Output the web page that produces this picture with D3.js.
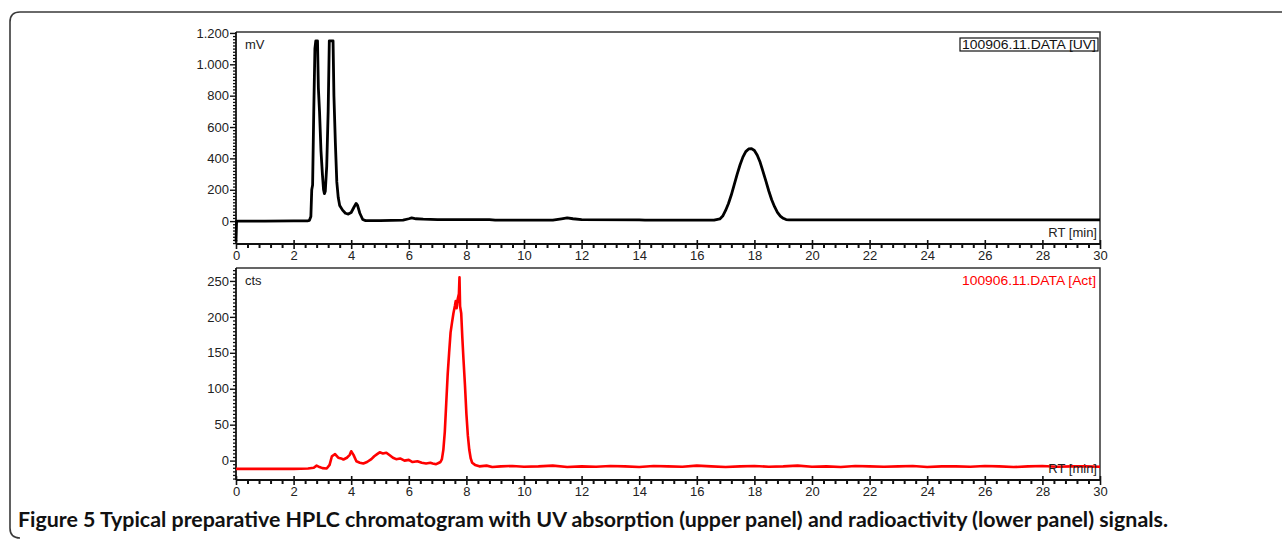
<!DOCTYPE html>
<html>
<head>
<meta charset="utf-8">
<script src="https://cdn.jsdelivr.net/npm/d3@7/dist/d3.min.js"></script>
<style>
  html, body { margin: 0; padding: 0; background: #fff; }
  svg { display: block; }
  text { font-family: "Liberation Sans", Arial, sans-serif; }
</style>
</head>
<body>
<svg id="chart" width="1282" height="540"></svg>
<script>
// ---------------- DATA ----------------
// Upper panel: UV absorption (mV) vs retention time (min)
const uvTime = [0, 0.02, 1.0, 2.0, 2.5, 2.55, 2.6, 2.63, 2.66, 2.7, 2.74, 2.77, 2.83, 2.86, 2.9, 2.95, 3.0, 3.04, 3.07, 3.1, 3.15, 3.2, 3.24, 3.37, 3.4, 3.45, 3.5, 3.55, 3.6, 3.7, 3.8, 3.9, 4.0, 4.1, 4.17, 4.22, 4.3, 4.4, 4.5, 5.0, 5.8, 6.0, 6.1, 6.25, 6.5, 7.0, 8.0, 8.8, 9.0, 11.0, 11.3, 11.5, 11.7, 12.0, 14.0, 14.2, 16.6, 16.8, 16.9, 17.0, 17.1, 17.2, 17.3, 17.4, 17.5, 17.6, 17.7, 17.8, 17.9, 18.0, 18.1, 18.2, 18.3, 18.4, 18.5, 18.6, 18.7, 18.8, 18.9, 19.0, 19.1, 19.2, 25.0, 30.0];
const uvValue = [-130, 0, 0, 1, 2, 5, 30, 200, 230, 700, 1100, 1150, 1150, 850, 700, 450, 300, 200, 175, 190, 350, 700, 1150, 1150, 800, 500, 250, 150, 100, 70, 50, 45, 55, 90, 113, 100, 50, 10, 3, 3, 6, 15, 20, 15, 12, 10, 10, 9, 6, 6, 14, 20, 15, 9, 8, 6, 6, 14, 32, 68, 112, 168, 232, 298, 358, 408, 443, 460, 462, 450, 420, 375, 315, 255, 192, 136, 92, 56, 32, 18, 10, 8, 8, 8];

// Lower panel: radioactivity (cts) vs retention time (min)
const actTime = [0, 1.0, 2.0, 2.5, 2.7, 2.8, 2.9, 3.0, 3.15, 3.25, 3.33, 3.44, 3.55, 3.65, 3.73, 3.85, 3.95, 4.0, 4.08, 4.18, 4.3, 4.42, 4.55, 4.7, 4.8, 4.9, 4.99, 5.1, 5.22, 5.35, 5.45, 5.56, 5.7, 5.85, 6.0, 6.13, 6.3, 6.45, 6.6, 6.75, 6.83, 6.95, 7.05, 7.1, 7.15, 7.2, 7.25, 7.3, 7.35, 7.4, 7.45, 7.5, 7.55, 7.6, 7.63, 7.66, 7.7, 7.74, 7.76, 7.78, 7.82, 7.86, 7.9, 7.95, 8.0, 8.05, 8.1, 8.15, 8.2, 8.3, 8.45, 8.7, 8.9, 9.2, 9.6, 10.0, 10.5, 11.0, 11.5, 12.0, 12.5, 13.0, 13.5, 14.0, 14.5, 15.0, 15.5, 16.0, 16.5, 17.0, 17.5, 18.0, 18.5, 19.0, 19.5, 20.0, 20.5, 21.0, 21.5, 22.0, 22.5, 23.0, 23.5, 24.0, 24.5, 25.0, 25.5, 26.0, 26.5, 27.0, 27.5, 28.0, 28.5, 29.0, 29.5, 30.0];
const actValue = [-11.5, -11.5, -11.5, -11, -10, -7, -9, -10.5, -11, -6, 6, 9, 4, 3, 1.5, 4, 8, 13, 8, -1, -3, -4, -2, 2, 6, 9, 11.5, 10, 11, 7, 4, 2, 3, 0, 1, -2, -1, -3, -4, -3, -4, -5, -3, -2, 2, 15, 40, 80, 120, 150, 178, 192, 205, 215, 222, 212, 225, 232, 255, 215, 205, 170, 140, 105, 65, 35, 15, 3, -3, -6, -8, -7, -9, -8, -7.5, -8.5, -8, -7, -9, -8, -8.5, -7.5, -8, -9, -7.5, -8, -8.5, -7, -8, -9, -8, -7.5, -8.5, -8, -7, -8.5, -8, -9, -7.5, -8, -8.5, -8, -7.5, -9, -8, -8, -8.5, -7.5, -8, -9, -8, -7.5, -8.5, -8, -8, -8.5];

const xTicks = [0, 2, 4, 6, 8, 10, 12, 14, 16, 18, 20, 22, 24, 26, 28, 30];
const uvTicks = [0, 200, 400, 600, 800, 1000, 1200];
const actTicks = [0, 50, 100, 150, 200, 250];

const uvLabel = "mV";
const actLabel = "cts";
const uvLegend = "100906.11.DATA [UV]";
const actLegend = "100906.11.DATA [Act]";
const xLabel = "RT [min]";
const caption = "Figure 5 Typical preparative HPLC chromatogram with UV absorption (upper panel) and radioactivity (lower panel) signals.";

// ---------------- DRAWING ----------------
const svg = d3.select("#chart");

// outer rounded frame (top + left edges)
svg.append("path")
  .attr("d", "M1282,12 H20 Q10,12 10,22 V528 Q10,538 20,538")
  .attr("fill", "none").attr("stroke", "#3a3a3a").attr("stroke-width", 1.6);

const left = 236, right = 1100;
const x = d3.scaleLinear().domain([0, 30]).range([left, right]);
const dotFmt = v => d3.format(",")(v).replace(/,/g, ".");

function panel(opts) {
  const { top, bottom, yDomain, yTicks, yMinorStep, time, values, color, unit, legend, boxed, labelOff } = opts;
  const y = d3.scaleLinear().domain(yDomain).range([bottom, top]);
  const g = svg.append("g");

  // top and right border
  g.append("path")
    .attr("d", `M${left},${top} H${right} V${bottom}`)
    .attr("fill", "none").attr("stroke", "#333").attr("stroke-width", 1.5);

  // minor y ticks
  const yMinor = d3.range(Math.ceil(yDomain[0] / yMinorStep) * yMinorStep, yDomain[1] + 0.001, yMinorStep)
    .filter(v => !yTicks.includes(v));
  g.append("g").attr("transform", `translate(${left},0)`)
    .call(d3.axisLeft(y).tickValues(yMinor).tickSize(3).tickFormat(""))
    .call(a => a.select(".domain").remove())
    .selectAll("line").attr("stroke", "#111").attr("stroke-width", 1.3);

  // major y ticks + labels
  const ya = g.append("g").attr("transform", `translate(${left},0)`)
    .call(d3.axisLeft(y).tickValues(yTicks).tickSize(6).tickPadding(1).tickFormat(dotFmt));
  ya.select(".domain").attr("d", `M0,${top}V${bottom}`).attr("stroke", "#111").attr("stroke-width", 1.8);
  ya.selectAll("line").attr("stroke", "#111").attr("stroke-width", 1.4);
  ya.selectAll("text").attr("font-size", 13).attr("fill", "#222")
    .attr("font-family", "'Liberation Sans', Arial, sans-serif");

  // minor x ticks
  const xMinor = d3.range(0, 30.001, 0.4).map(v => +v.toFixed(2)).filter(v => Math.abs(v / 2 - Math.round(v / 2)) > 1e-6);
  g.append("g").attr("transform", `translate(0,${bottom})`)
    .call(d3.axisBottom(x).tickValues(xMinor).tickSize(4).tickFormat(""))
    .call(a => a.select(".domain").remove())
    .selectAll("line").attr("stroke", "#111").attr("stroke-width", 2);

  // major x ticks + labels
  const xa = g.append("g").attr("transform", `translate(0,${bottom})`)
    .call(d3.axisBottom(x).tickValues(xTicks).tickSize(5).tickPadding(labelOff).tickFormat(d3.format("d")));
  xa.select(".domain").attr("d", `M${left},0H${right}`).attr("stroke", "#111").attr("stroke-width", 1.8);
  xa.selectAll("line").attr("y1", -4).attr("stroke", "#111").attr("stroke-width", 1.6);
  xa.selectAll("text").attr("font-size", 13).attr("fill", "#222")
    .attr("font-family", "'Liberation Sans', Arial, sans-serif");

  // trace
  const line = d3.line().x((d, i) => x(time[i])).y(d => y(d));
  g.append("path").datum(values)
    .attr("d", line)
    .attr("fill", "none").attr("stroke", color)
    .attr("stroke-width", opts.sw).attr("stroke-linejoin", "round");

  // unit label
  g.append("text").attr("x", left + 9).attr("y", top + 17)
    .attr("font-size", 13).attr("fill", "#222").text(unit);

  // legend
  const lt = g.append("text").attr("x", right - 4).attr("y", top + 17)
    .attr("text-anchor", "end").attr("font-size", 13).attr("fill", color === "#000" ? "#111" : color)
    .attr("textLength", 134).attr("lengthAdjust", "spacingAndGlyphs")
    .text(legend);
  if (boxed) {
    const bb = lt.node().getBBox();
    g.append("rect")
      .attr("x", bb.x - 2).attr("y", top + 6).attr("width", bb.width + 4).attr("height", 13)
      .attr("fill", "none").attr("stroke", "#111").attr("stroke-width", 1.2);
  }

  // RT [min]
  g.append("text").attr("x", right - 3).attr("y", bottom - 7)
    .attr("text-anchor", "end").attr("font-size", 13).attr("fill", "#222").text(xLabel);
}

panel({ top: 32, bottom: 244, yDomain: [-146, 1206], yTicks: uvTicks, yMinorStep: 20,
        time: uvTime, values: uvValue, color: "#000", sw: 2.8, unit: uvLabel, legend: uvLegend, boxed: true, labelOff: 2 });
panel({ top: 268, bottom: 480, yDomain: [-27, 268], yTicks: actTicks, yMinorStep: 5,
        time: actTime, values: actValue, color: "#ff0000", sw: 2.6, unit: actLabel, legend: actLegend, boxed: false, labelOff: 2 });

// caption
svg.append("text")
  .attr("x", 18).attr("y", 527)
  .style("font-family", "Lato, 'Open Sans', sans-serif")
  .style("font-weight", "bold").style("font-size", "20px").attr("fill", "#111")
  .attr("textLength", 1150).attr("lengthAdjust", "spacingAndGlyphs")
  .text(caption);
</script>
</body>
</html>
